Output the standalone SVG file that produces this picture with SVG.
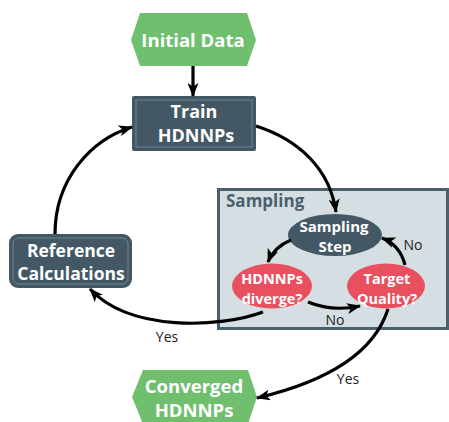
<svg xmlns="http://www.w3.org/2000/svg" width="449" height="422" viewBox="0 0 449 422">
<style>
.t{font-family:"Open Sans","DejaVu Sans",sans-serif;font-weight:bold;fill:#fff;text-anchor:middle}
.l{font-family:"Open Sans","DejaVu Sans",sans-serif;font-size:14px;fill:#222;text-anchor:middle}
.c{fill:none;stroke:#000;stroke-width:3.2;marker-end:url(#ah)}
.hex{fill:#6fbf6f}
.box{fill:#435864}
.inner{fill:none;stroke:#6f8591;stroke-width:1}
.red{fill:#e8505f}
</style>
<defs>
<marker id="ah" viewBox="0 0 14 11" refX="13" refY="5.5" markerWidth="14" markerHeight="11" markerUnits="userSpaceOnUse" orient="auto">
<path d="M0,0 L14,5.5 L0,11 L3.5,5.5 Z" fill="#000"/>
</marker>
</defs>
<rect width="449" height="422" fill="#fff"/>
<g id="sampling">
<rect x="218.5" y="189.5" width="229" height="139" fill="#d5dfe3" stroke="#4b606d" stroke-width="3"/>
<text x="226" y="207" style="font-family:'Open Sans','DejaVu Sans',sans-serif;font-weight:bold;font-size:17px;fill:#4b606d">Sampling</text>
</g>
<g id="initial-data">
<polygon class="hex" points="131,40 140,13 247,13 256,40 247,66 140,66"/>
<text class="t" x="193" y="47" font-size="18.5">Initial Data</text>
</g>
<g id="train">
<rect class="box" x="132" y="96" width="124" height="55" rx="2"/>
<rect class="inner" x="136" y="100" width="116" height="47"/>
<text class="t" x="194" y="118" font-size="18">Train</text>
<text class="t" x="196" y="142" font-size="18">HDNNPs</text>
</g>
<g id="reference">
<rect class="box" x="9" y="234" width="123" height="54" rx="9"/>
<rect class="inner" x="13" y="238" width="115" height="46" rx="6"/>
<text class="t" x="71" y="257" font-size="17.5">Reference</text>
<text class="t" x="71" y="280" font-size="17.5">Calculations</text>
</g>
<g id="sampling-step">
<ellipse class="box" cx="335" cy="235" rx="47" ry="21"/>
<text class="t" x="334" y="232" font-size="15">Sampling</text>
<text class="t" x="335" y="252" font-size="15">Step</text>
</g>
<g id="diverge">
<ellipse class="red" cx="272" cy="286" rx="40" ry="22.5"/>
<text class="t" x="272" y="284" font-size="14.5">HDNNPs</text>
<text class="t" x="272" y="304" font-size="14.5">diverge?</text>
</g>
<g id="target">
<ellipse class="red" cx="386" cy="286" rx="39" ry="22.5"/>
<text class="t" x="387" y="284" font-size="14.5">Target</text>
<text class="t" x="387" y="304" font-size="14.5">Quality?</text>
</g>
<g id="converged">
<polygon class="hex" points="132,397 143,370 248,370 257,397 248,424 143,424"/>
<text class="t" x="194" y="393" font-size="18.5">Converged</text>
<text class="t" x="194" y="417" font-size="18.5">HDNNPs</text>
</g>
<g id="connectors">
<path class="c" d="M193,66 L193,96"/>
<path class="c" d="M256,126 C300,140 330,170 336,212"/>
<path class="c" d="M291,240 Q274,247 268,262"/>
<path class="c" d="M405,265 Q400,245 382,238"/>
<path class="c" d="M308,302 Q332,312 360,306"/>
<path class="c" d="M263,312 C220,328 130,332 90,289"/>
<path class="c" d="M55,234 C55,180 90,140 132,127"/>
<path class="c" d="M388,309 C372,360 312,385 257,398"/>
<text class="l" x="413" y="250">No</text>
<text class="l" x="335" y="325">No</text>
<text class="l" x="167" y="342">Yes</text>
<text class="l" x="348" y="384">Yes</text>
</g>
</svg>
